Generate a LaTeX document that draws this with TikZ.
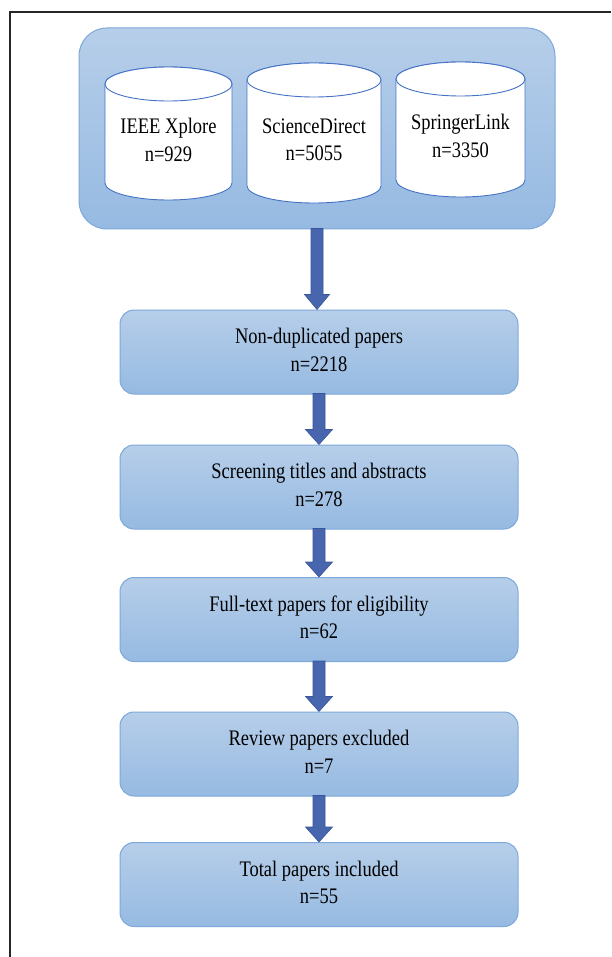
\documentclass[tikz,border=0pt]{standalone}
\usepackage{fontspec}
\setmainfont{Liberation Serif}
\usepackage{graphicx}
\usetikzlibrary{calc,shadings}
\definecolor{boxtop}{RGB}{182,206,233}
\definecolor{boxbot}{RGB}{150,186,226}
\definecolor{boxedge}{RGB}{125,168,218}
\definecolor{arrowfill}{RGB}{72,102,174}
\definecolor{arrowedge}{RGB}{55,85,155}
\definecolor{cyledge}{RGB}{68,114,196}
\newcommand{\twolines}[2]{\scalebox{1}[1.2]{\begin{tabular}{@{}c@{}}#1\\#2\end{tabular}}}
\newcommand{\dbcyl}[4]{% x1, x2, ytop, ybot
  \path[cylbody] ({#1},{-(#3+17)}) -- ({#1},{-(#4-17)})
     arc[start angle=180, end angle=360, x radius={(#2-#1)/2}, y radius=17]
     -- ({#2},{-(#3+17)})
     arc[start angle=0, end angle=180, x radius={(#2-#1)/2}, y radius=17] -- cycle;
  \draw[cylbody] ({(#1+#2)/2},{-(#3+17)}) ellipse[x radius={(#2-#1)/2}, y radius=17];
}
\newcommand{\blockarrow}[3]{% from, to, head half-width
  \draw[blockarr] let \p1=(#1), \p2=(#2) in
    (\x1-6,\y1+1) -- (\x1-6,\y2+15) -- (\x1-#3,\y2+15) -- (\x1,\y2)
    -- (\x1+#3,\y2+15) -- (\x1+6,\y2+15) -- (\x1+6,\y1+1) -- cycle;
}
\tikzset{
  stagebox/.style={rectangle, rounded corners=14pt, draw=boxedge, line width=1pt,
    top color=boxtop, bottom color=boxbot, minimum width=398pt, minimum height=84pt,
    inner sep=0pt, font=\fontsize{18.5}{23}\selectfont},
  groupbox/.style={rectangle, rounded corners=28pt, draw=boxedge, line width=1pt,
    top color=boxtop, bottom color=boxbot, minimum width=476pt, minimum height=201pt,
    inner sep=0pt},
  cylbody/.style={fill=white, draw=cyledge, line width=0.9pt},
  cyltext/.style={inner sep=0pt, font=\fontsize{18.5}{23}\selectfont},
  blockarr/.style={fill=arrowfill, draw=arrowedge, line width=0.6pt},
  frameline/.style={draw=black!85, line width=1.6pt}
}
\begin{document}
\begin{tikzpicture}[x=1pt,y=1pt]
\useasboundingbox (0,0) rectangle (611,-957);
\fill[white] (0,0) rectangle (611,-957);
\draw[frameline] (10,-957) -- (10,-12) -- (611,-12);

\node[groupbox] (grp) at (317,-128.5) {};
\dbcyl{105}{232}{67}{200}
\dbcyl{247}{381}{63}{203}
\dbcyl{396}{525}{62}{197}
\node[cyltext] (c1) at (168.5,-142) {\twolines{IEEE Xplore}{n=929}};
\node[cyltext] (c2) at (314,-141.5) {\twolines{ScienceDirect}{n=5055}};
\node[cyltext] (c3) at (460.5,-138) {\twolines{SpringerLink}{n=3350}};

\node[stagebox] (b1) at (319,-352) {\twolines{Non-duplicated papers}{n=2218}};
\node[stagebox] (b2) at (319,-487) {\twolines{Screening titles and abstracts}{n=278}};
\node[stagebox] (b3) at (319,-619.5) {\twolines{Full-text papers for eligibility}{n=62}};
\node[stagebox] (b4) at (319,-754) {\twolines{Review papers excluded}{n=7}};
\node[stagebox] (b5) at (319,-884.5) {\twolines{Total papers included}{n=55}};

\blockarrow{grp.south}{grp.south |- b1.north}{12.5}
\blockarrow{b1.south}{b2.north}{13.5}
\blockarrow{b2.south}{b3.north}{13.5}
\blockarrow{b3.south}{b4.north}{13.5}
\blockarrow{b4.south}{b5.north}{13.5}
\end{tikzpicture}
\end{document}
